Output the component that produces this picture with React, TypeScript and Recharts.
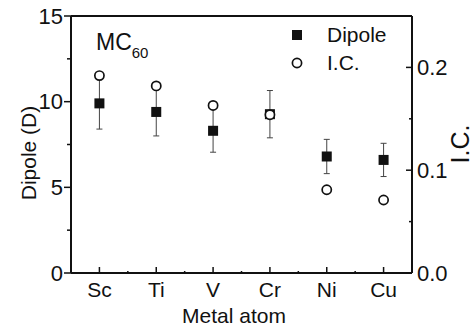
import React from 'react';
import { ScatterChart, Scatter, XAxis, YAxis, ErrorBar, Legend } from 'recharts';

const metals = ['Sc', 'Ti', 'V', 'Cr', 'Ni', 'Cu'];
const dipole = [9.9, 9.4, 8.3, 9.27, 6.8, 6.6];
const dipoleErr = [1.5, 1.4, 1.25, 1.38, 1.0, 0.97];
const ic = [0.192, 0.182, 0.163, 0.154, 0.081, 0.071];

const leftTicks = [0, 2.5, 5, 7.5, 10, 12.5, 15];
const rightTicks = [0, 0.05, 0.1, 0.15, 0.2, 0.25];
const xTicks = [1, 1.5, 2, 2.5, 3, 3.5, 4, 4.5, 5, 5.5, 6];

const dipoleData = metals.map((m, i) => ({ x: i + 1, y: dipole[i], err: dipoleErr[i] }));
const icData = metals.map((m, i) => ({ x: i + 1, y: ic[i] }));

const FONT = '"Liberation Sans", Arial, sans-serif';
const INK = '#111';

const LeftTick = (props: any) => {
  const { x, y, payload } = props;
  const major = payload.value % 5 === 0;
  return (
    <g>
      <line x1={x - (major ? 7 : 4)} x2={x} y1={y} y2={y} stroke={INK} strokeWidth={1.5} />
      {major && (
        <text x={x - 8} y={y} textAnchor="end" dominantBaseline="central" fontSize={22} fontFamily={FONT} fill={INK}>
          {payload.value}
        </text>
      )}
    </g>
  );
};

const RightTick = (props: any) => {
  const { x, y, payload } = props;
  const major = Math.round(payload.value * 100) % 10 === 0;
  return (
    <g>
      <line x1={x - (major ? 6 : 3)} x2={x} y1={y} y2={y} stroke={INK} strokeWidth={1.5} />
      {major && payload.value < 0.25 && (
        <text x={x + 5} y={y} textAnchor="start" dominantBaseline="central" fontSize={22} fontFamily={FONT} fill={INK}>
          {payload.value.toFixed(1)}
        </text>
      )}
    </g>
  );
};

const BottomTick = (props: any) => {
  const { x, y, payload } = props;
  const major = Number.isInteger(payload.value);
  return (
    <g>
      <line x1={x} x2={x} y1={y - (major ? 6 : 2)} y2={y} stroke={INK} strokeWidth={1.5} />
      {major && (
        <text x={x} y={y + 16} textAnchor="middle" dominantBaseline="central" fontSize={21} fontFamily={FONT} fill={INK}>
          {metals[payload.value - 1]}
        </text>
      )}
    </g>
  );
};

const TopTick = (props: any) => {
  const { x, y, payload } = props;
  const major = Number.isInteger(payload.value);
  return <line x1={x} x2={x} y1={y} y2={y + (major ? 3 : 2)} stroke={INK} strokeWidth={1.2} />;
};

const Square = (props: any) => (
  <rect x={props.cx - 5} y={props.cy - 5} width={10} height={10} fill={INK} />
);

const Ring = (props: any) => (
  <circle cx={props.cx} cy={props.cy} r={4.6} fill="#fff" stroke={INK} strokeWidth={1.7} />
);

const renderLegend = (props: any) => {
  const { payload } = props;
  return (
    <div style={{ fontFamily: FONT, fontSize: 21, color: INK }}>
      {payload.map((entry: any) => (
        <div key={entry.value} style={{ display: 'flex', alignItems: 'center', height: 28 }}>
          <svg width={12} height={12} style={{ marginRight: 24 }}>
            {entry.value === 'Dipole' ? (
              <rect x={1} y={1} width={10} height={10} fill={INK} />
            ) : (
              <circle cx={6} cy={6} r={4.6} fill="#fff" stroke={INK} strokeWidth={1.7} />
            )}
          </svg>
          <span>{entry.value}</span>
        </div>
      ))}
    </div>
  );
};

const yTitle = (text: string, cx: number, cy: number, size: number) => () => (
  <text x={cx} y={cy} transform={`rotate(-90 ${cx} ${cy})`} textAnchor="middle" dominantBaseline="central" fontSize={size} fontFamily={FONT} fill={INK}>
    {text}
  </text>
);

const xTitle = () => (
  <text x={234} y={315} textAnchor="middle" dominantBaseline="central" fontSize={21} fontFamily={FONT} fill={INK}>
    Metal atom
  </text>
);

export default function App() {
  return (
    <div style={{ position: 'absolute', left: 0, top: 0, width: 475, height: 327, background: '#fff' }}>
      <ScatterChart width={475} height={327} margin={{ top: 0, right: 0, bottom: 0, left: 0 }}>
        <XAxis
          xAxisId="bottom"
          dataKey="x"
          type="number"
          domain={[0.5, 6.5]}
          ticks={xTicks}
          height={54}
          tick={<BottomTick />}
          tickSize={0}
          tickMargin={0}
          tickLine={false}
          axisLine={{ stroke: INK, strokeWidth: 2 }}
          label={{ content: xTitle }}
        />
        <XAxis
          xAxisId="top"
          dataKey="x"
          type="number"
          orientation="top"
          domain={[0.5, 6.5]}
          ticks={xTicks}
          height={16}
          tick={<TopTick />}
          tickSize={0}
          tickMargin={0}
          tickLine={false}
          axisLine={{ stroke: INK, strokeWidth: 2 }}
        />
        <YAxis
          yAxisId="left"
          dataKey="y"
          type="number"
          domain={[0, 15]}
          ticks={leftTicks}
          width={71}
          tick={<LeftTick />}
          tickSize={0}
          tickMargin={0}
          tickLine={false}
          axisLine={{ stroke: INK, strokeWidth: 2 }}
          label={{ content: yTitle('Dipole (D)', 28, 153, 21) }}
        />
        <YAxis
          yAxisId="right"
          dataKey="y"
          type="number"
          orientation="right"
          domain={[0, 0.25]}
          ticks={rightTicks}
          width={63}
          tick={<RightTick />}
          tickSize={0}
          tickMargin={0}
          tickLine={false}
          axisLine={{ stroke: INK, strokeWidth: 2 }}
          label={{ content: yTitle('I.C.', 460, 144, 25) }}
        />
        <Legend
          layout="vertical"
          align="center"
          verticalAlign="middle"
          wrapperStyle={{ left: 291, top: 21, width: 'auto', height: 'auto' }}
          content={renderLegend}
        />
        <Scatter
          name="Dipole"
          data={dipoleData}
          xAxisId="bottom"
          yAxisId="left"
          shape={<Square />}
          isAnimationActive={false}
        >
          <ErrorBar dataKey="err" direction="y" width={3} stroke="#444" strokeWidth={1} />
        </Scatter>
        <Scatter
          name="I.C."
          data={icData}
          xAxisId="bottom"
          yAxisId="right"
          shape={<Ring />}
          isAnimationActive={false}
        />
      </ScatterChart>
      <svg width={475} height={327} style={{ position: 'absolute', left: 0, top: 0, pointerEvents: 'none' }}>
        <text x={96} y={50} fontSize={23} fontFamily={FONT} fill={INK}>
          MC<tspan dy={8} fontSize={15}>60</tspan>
        </text>
      </svg>
    </div>
  );
}
